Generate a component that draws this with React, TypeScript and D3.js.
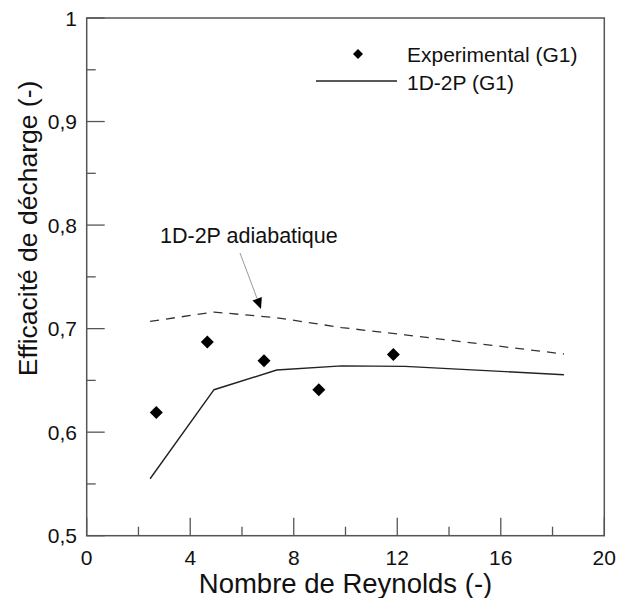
import React from "react";
import * as d3 from "d3";

const expX = [2.69, 4.66, 6.85, 8.97, 11.85];
const expY = [0.619, 0.687, 0.669, 0.641, 0.675];

const solidX = [2.45, 4.92, 7.34, 9.85, 12.3, 18.44];
const solidY = [0.555, 0.641, 0.66, 0.664, 0.6635, 0.6555];

const dashX = [2.45, 4.92, 7.34, 9.85, 12.3, 18.44];
const dashY = [0.707, 0.716, 0.7105, 0.701, 0.694, 0.6755];

const xTicks = [0, 4, 8, 12, 16, 20];
const xMinor = [2, 6, 10, 14, 18];
const yTicks = [0.5, 0.6, 0.7, 0.8, 0.9, 1];
const yMinor = [0.55, 0.65, 0.75, 0.85, 0.95];
const yTickLabels = ["0,5", "0,6", "0,7", "0,8", "0,9", "1"];

const W = 627, H = 598;
const L = 86.7, R = 604.3, T = 18, B = 535.7;
const font = "Arial, 'Liberation Sans', sans-serif";

export default function App() {
  const x = d3.scaleLinear().domain([0, 20]).range([L, R]);
  const y = d3.scaleLinear().domain([0.5, 1]).range([B, T]);
  const line = d3.line<[number, number]>().x(d => x(d[0])).y(d => y(d[1]));
  const solid = line(solidX.map((v, i) => [v, solidY[i]]) as [number, number][]) || "";
  const dashed = line(dashX.map((v, i) => [v, dashY[i]]) as [number, number][]) || "";
  const diamond = (cx: number, cy: number, r: number) =>
    `M${cx},${cy - r}L${cx + r},${cy}L${cx},${cy + r}L${cx - r},${cy}Z`;
  const axisCol = "#555";

  // arrow
  const ax1 = 240, ay1 = 253, ax2 = 261, ay2 = 309;
  const ang = Math.atan2(ay2 - ay1, ax2 - ax1);
  const hl = 11, hw = 5;
  const bx = ax2 - hl * Math.cos(ang), by = ay2 - hl * Math.sin(ang);
  const head = `M${ax2},${ay2}L${bx + hw * Math.sin(ang)},${by - hw * Math.cos(ang)}L${bx - hw * Math.sin(ang)},${by + hw * Math.cos(ang)}Z`;

  return (
    <svg width={W} height={H} style={{ position: "absolute", left: 0, top: 0, background: "#fff" }} fontFamily={font}>
      <rect x={0} y={0} width={W} height={H} fill="#fff" />
      <rect x={L} y={T} width={R - L} height={B - T} fill="none" stroke={axisCol} strokeWidth={1.5} />
      {xTicks.map(t => (
        <g key={"xt" + t}>
          <line x1={x(t)} x2={x(t)} y1={B} y2={B - 18} stroke={axisCol} strokeWidth={1.3} />
          <text x={x(t)} y={564.5} fontSize={21} textAnchor="middle" fill="#111">{t}</text>
        </g>
      ))}
      {xMinor.map(t => (
        <line key={"xm" + t} x1={x(t)} x2={x(t)} y1={B} y2={B - 9} stroke={axisCol} strokeWidth={1.3} />
      ))}
      {yTicks.map((t, i) => (
        <g key={"yt" + t}>
          <line x1={L} x2={L + 18} y1={y(t)} y2={y(t)} stroke={axisCol} strokeWidth={1.3} />
          <text x={77} y={y(t) + 7.5} fontSize={21} textAnchor="end" fill="#111">{yTickLabels[i]}</text>
        </g>
      ))}
      {yMinor.map(t => (
        <line key={"ym" + t} x1={L} x2={L + 9} y1={y(t)} y2={y(t)} stroke={axisCol} strokeWidth={1.3} />
      ))}
      <path d={dashed} fill="none" stroke="#333" strokeWidth={1.3} strokeDasharray="9,7" />
      <path d={solid} fill="none" stroke="#222" strokeWidth={1.4} />
      {expX.map((v, i) => (
        <path key={"e" + i} d={diamond(x(v), y(expY[i]), 6.5)} fill="#000" />
      ))}
      {/* annotation */}
      <text x={160} y={243} fontSize={21.5} fill="#111">1D-2P adiabatique</text>
      <line x1={ax1} y1={ay1} x2={bx} y2={by} stroke="#999" strokeWidth={1} />
      <path d={head} fill="#000" />
      {/* legend */}
      <path d={diamond(358, 54, 5)} fill="#000" />
      <text x={407} y={61.5} fontSize={21} fill="#111">Experimental (G1)</text>
      <line x1={316} x2={397} y1={81} y2={81} stroke="#222" strokeWidth={1.3} />
      <text x={407} y={90} fontSize={21} fill="#111">1D-2P (G1)</text>
      {/* axis titles */}
      <text x={(L + R) / 2} y={593} fontSize={27.5} textAnchor="middle" fill="#111">Nombre de Reynolds (-)</text>
      <text transform={`translate(37,${228.5}) rotate(-90)`} fontSize={26.5} textAnchor="middle" fill="#111">Efficacité de décharge (-)</text>
    </svg>
  );
}
